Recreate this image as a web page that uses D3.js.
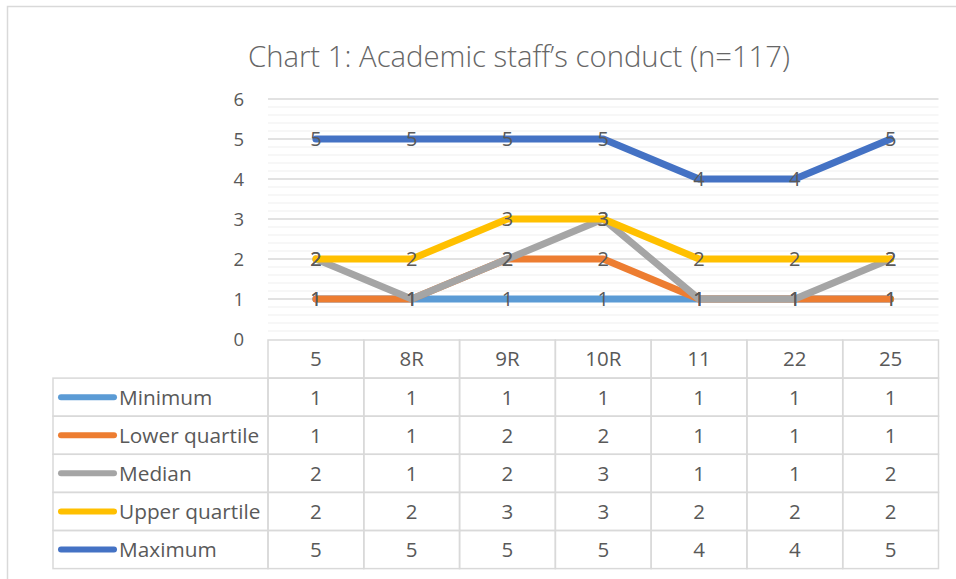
<!DOCTYPE html>
<html><head><meta charset="utf-8">
<script src="https://cdn.jsdelivr.net/npm/d3@7"></script>
<style>
html,body{margin:0;padding:0;background:#fff;}
svg{display:block;font-family:"Open Sans",Lato,sans-serif;}
</style></head>
<body>
<svg id="chart" width="956" height="579"></svg>
<script>
const titleText = "Chart 1: Academic staff’s conduct (n=117)";
const categories = ["5","8R","9R","10R","11","22","25"];
const seriesNames = ["Minimum","Lower quartile","Median","Upper quartile","Maximum"];
const minimum = [1,1,1,1,1,1,1];
const lowerQuartile = [1,1,2,2,1,1,1];
const median = [2,1,2,3,1,1,2];
const upperQuartile = [2,2,3,3,2,2,2];
const maximum = [5,5,5,5,4,4,5];
const colors = ["#5B9BD5","#ED7D31","#A5A5A5","#FFC000","#4472C4"];
const yTicks = [0,1,2,3,4,5,6];

const seriesValues = [minimum, lowerQuartile, median, upperQuartile, maximum];
const series = seriesNames.map((n,i)=>({name:n, values:seriesValues[i], color:colors[i]}));

const svg = d3.select("#chart");
const textColor = "#595959";

// outer frame
svg.append("rect").attr("x",7.5).attr("y",6.5).attr("width",960).attr("height",600)
  .attr("fill","#fff").attr("stroke","#d9d9d9").attr("stroke-width",1.5);

svg.append("text").attr("x",519).attr("y",67).attr("text-anchor","middle")
  .attr("font-size",29).attr("font-weight",300).attr("fill","#666666")
  .attr("textLength",542).attr("lengthAdjust","spacingAndGlyphs").text(titleText);

const plotL = 268, plotR = 938.5, plotT = 99, plotB = 339;
const x = d3.scaleBand().domain(categories).range([plotL, plotR]);
const y = d3.scaleLinear().domain([0,6]).range([plotB, plotT]);

// minor gridlines
const minor = d3.range(0, 6.0001, 0.2).filter(v => Math.abs(v - Math.round(v)) > 1e-6);
svg.append("g").selectAll("line").data(minor).join("line")
  .attr("x1",plotL).attr("x2",plotR).attr("y1",d=>y(d)).attr("y2",d=>y(d))
  .attr("stroke","#f0f0f0").attr("stroke-width",1.2);
// major gridlines
svg.append("g").selectAll("line").data(yTicks.filter(d=>d>0)).join("line")
  .attr("x1",plotL).attr("x2",plotR).attr("y1",d=>y(d)).attr("y2",d=>y(d))
  .attr("stroke","#d9d9d9").attr("stroke-width",1.5);

// y axis labels
const yAxis = d3.axisLeft(y).tickValues(yTicks).tickFormat(d3.format("d")).tickSize(0).tickPadding(0);
const yg = svg.append("g").attr("transform",`translate(${plotL-24},0)`).call(yAxis);
yg.select(".domain").remove();
yg.selectAll("text").attr("font-size",18.5).attr("fill",textColor).attr("font-family","'Open Sans',sans-serif").attr("dy","0.36em");

// lines
const line = d3.line().x((d,i)=>x(categories[i])+x.bandwidth()/2).y(d=>y(d));
svg.append("g").selectAll("path").data(series).join("path")
  .attr("d",d=>line(d.values)).attr("fill","none").attr("stroke",d=>d.color)
  .attr("stroke-width",7).attr("stroke-linejoin","round").attr("stroke-linecap","round");

// data labels
series.forEach(s=>{
  svg.append("g").selectAll("text").data(s.values).join("text")
    .attr("x",(d,i)=>x(categories[i])+x.bandwidth()/2)
    .attr("y",d=>y(d)).attr("dy","0.36em").attr("text-anchor","middle")
    .attr("font-size",20).attr("fill","#595959").text(d=>d);
});

// data table
const tableL = 53, tableT = 340, rowH = 38.1;
const tg = svg.append("g");
const gridColor = "#d9d9d9";
const tfs = 20.5;
// header row
categories.forEach((c,i)=>{
  tg.append("rect").attr("x",x(c)).attr("y",tableT).attr("width",x.bandwidth()).attr("height",rowH)
    .attr("fill","none").attr("stroke",gridColor).attr("stroke-width",1.5);
  tg.append("text").attr("x",x(c)+x.bandwidth()/2).attr("y",tableT+rowH/2).attr("dy","0.36em")
    .attr("text-anchor","middle").attr("font-size",tfs).attr("fill",textColor).text(c);
});
series.forEach((s,r)=>{
  const ry = tableT + rowH*(r+1);
  tg.append("rect").attr("x",tableL).attr("y",ry).attr("width",plotL-tableL).attr("height",rowH)
    .attr("fill","none").attr("stroke",gridColor).attr("stroke-width",1.5);
  tg.append("line").attr("x1",61).attr("x2",114).attr("y1",ry+rowH/2).attr("y2",ry+rowH/2)
    .attr("stroke",s.color).attr("stroke-width",6).attr("stroke-linecap","round");
  tg.append("text").attr("x",119).attr("y",ry+rowH/2).attr("dy","0.36em")
    .attr("font-size",tfs+0.3).attr("fill",textColor).text(s.name);
  s.values.forEach((v,i)=>{
    const c = categories[i];
    tg.append("rect").attr("x",x(c)).attr("y",ry).attr("width",x.bandwidth()).attr("height",rowH)
      .attr("fill","none").attr("stroke",gridColor).attr("stroke-width",1.5);
    tg.append("text").attr("x",x(c)+x.bandwidth()/2).attr("y",ry+rowH/2).attr("dy","0.36em")
      .attr("text-anchor","middle").attr("font-size",tfs).attr("fill",textColor).text(v);
  });
});
</script>
</body></html>
